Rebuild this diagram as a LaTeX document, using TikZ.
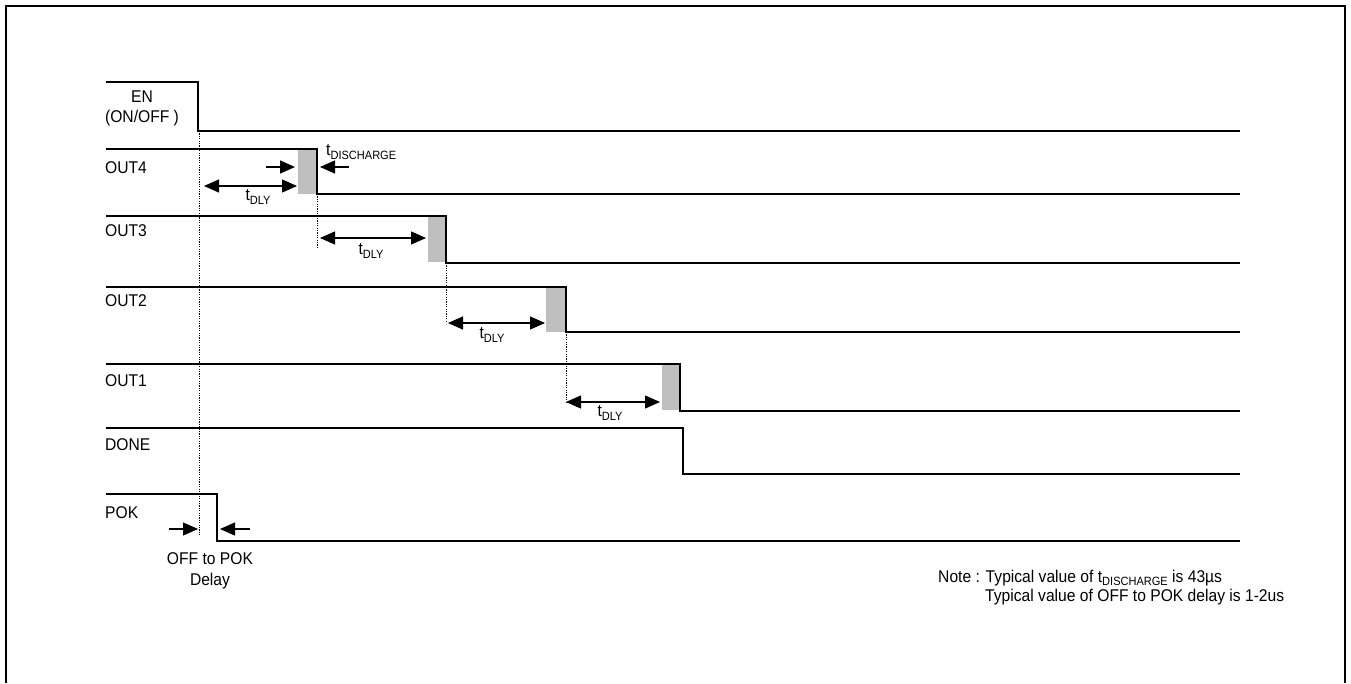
\documentclass[tikz,border=0pt]{standalone}
\usepackage{fontspec}
\setmainfont[FakeStretch=0.92]{Liberation Sans}
\usetikzlibrary{arrows.meta}
\newcommand{\sub}[1]{\raisebox{-0.35ex}{\fontsize{12}{12}\selectfont #1}}
\begin{document}
\begin{tikzpicture}[x=1pt,y=-1pt,
  sig/.style={line width=1.9pt},
  guide/.style={line width=1pt,dash pattern=on 1.2pt off 1.2pt},
  dim/.style={line width=1.1pt,{Triangle[length=15pt,width=13pt]}-{Triangle[length=15pt,width=13pt]}},
  ptr/.style={line width=1.1pt,-{Triangle[length=15pt,width=13pt]}},
  lbl/.style={inner sep=0pt,font=\fontsize{17}{20}\selectfont},
  discharge/.style={fill=black!25,draw=none}]
\useasboundingbox (0,0) rectangle (1351,683);
% frame
\draw[line width=2pt] (6,683) -- (6,6) -- (1345,6) -- (1345,683);

% signal labels
\node[lbl,align=center] (enl) at (142,108) {EN\\[0pt](ON/OFF )};
\node[lbl,anchor=west] (o4l) at (105,168) {OUT4};
\node[lbl,anchor=west] (o3l) at (105,231) {OUT3};
\node[lbl,anchor=west] (o2l) at (105,301) {OUT2};
\node[lbl,anchor=west] (o1l) at (105,381) {OUT1};
\node[lbl,anchor=west] (dnl) at (105,445) {DONE};
\node[lbl,anchor=west] (pkl) at (105,513) {POK};

% discharge shading
\fill[discharge] (298,149) rectangle (316,194);
\fill[discharge] (428,216) rectangle (445,262);
\fill[discharge] (546,287) rectangle (565,332);
\fill[discharge] (662,364) rectangle (680,410);

% waveforms
\draw[sig] (106,82) -- (198,82) -- (198,131) -- (1240,131);
\draw[sig] (106,149) -- (317,149) -- (317,194) -- (1240,194);
\draw[sig] (106,216) -- (446,216) -- (446,263) -- (1240,263);
\draw[sig] (106,287) -- (566,287) -- (566,332) -- (1240,332);
\draw[sig] (106,364) -- (680,364) -- (680,411) -- (1240,411);
\draw[sig] (106,428) -- (683,428) -- (683,474) -- (1240,474);
\draw[sig] (106,494) -- (217,494) -- (217,541) -- (1240,541);

% guide coordinates
\coordinate (g0t) at (199,131);
\coordinate (g0b) at (199,536);
\coordinate (g1t) at (317,194);
\coordinate (g1b) at (317,248);
\coordinate (g2t) at (446,263);
\coordinate (g2b) at (446,323);
\coordinate (g3t) at (566,332);
\coordinate (g3b) at (566,402);
\draw[guide] (g0t) -- (g0b);
\draw[guide] (g1t) -- (g1b);
\draw[guide] (g2t) -- (g2b);
\draw[guide] (g3t) -- (g3b);

% tDLY arrows
\coordinate (d4a) at (204,186); \coordinate (d4b) at (297,186);
\coordinate (d3a) at (320,238); \coordinate (d3b) at (426,238);
\coordinate (d2a) at (448,323); \coordinate (d2b) at (545,323);
\coordinate (d1a) at (566,402); \coordinate (d1b) at (660,402);
\draw[dim] (d4a) -- (d4b);
\draw[dim] (d3a) -- (d3b);
\draw[dim] (d2a) -- (d2b);
\draw[dim] (d1a) -- (d1b);
\node[lbl] (t4) at (258,197) {t\sub{DLY}};
\node[lbl] (t3) at (371,251) {t\sub{DLY}};
\node[lbl] (t2) at (492,335) {t\sub{DLY}};
\node[lbl] (t1) at (610,413) {t\sub{DLY}};

% tDISCHARGE pointers
\coordinate (dsl) at (266,167); \coordinate (dslt) at (295,167);
\coordinate (dsr) at (349,167); \coordinate (dsrt) at (320,167);
\draw[ptr] (dsl) -- (dslt);
\draw[ptr] (dsr) -- (dsrt);
\node[lbl,anchor=west] (tdis) at (326,152) {t\sub{DISCHARGE}};

% OFF to POK pointers
\coordinate (pl) at (169,529); \coordinate (plt) at (198,529);
\coordinate (pr) at (250,529); \coordinate (prt) at (220,529);
\draw[ptr] (pl) -- (plt);
\draw[ptr] (pr) -- (prt);
\node[lbl,align=center] (offpok) at (210,571) {OFF to POK\\[1pt]Delay};

% note
\node[lbl,anchor=west] (note1) at (938,578) {Note : Typical value of t\sub{DISCHARGE} is 43µs};
\node[lbl,anchor=west] (note2) at (985,597) {Typical value of OFF to POK delay is 1-2us};
\end{tikzpicture}
\end{document}
